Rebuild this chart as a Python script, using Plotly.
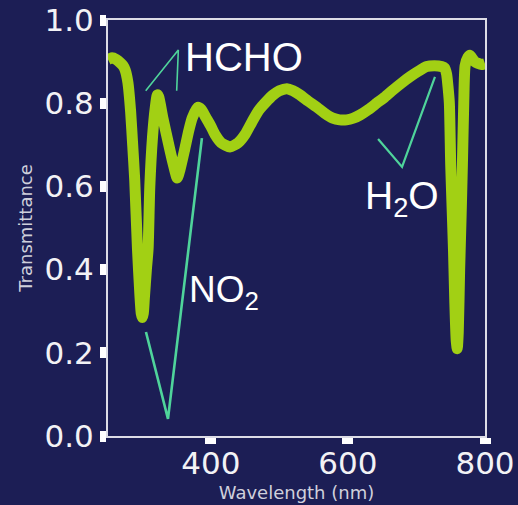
import plotly.graph_objects as go

# Spectrum data (wavelength in nm, transmittance)
wavelength = [250, 256, 262, 268, 272, 275, 279, 283, 286, 289, 293, 296.5, 298.5, 300, 301.5,
              303, 306, 308.5, 311, 315, 319, 322, 324, 330, 340, 345, 351, 355, 362, 368, 373,
              381, 386, 393, 400, 406, 415, 428, 440, 450, 460, 470, 480, 491, 500, 511,
              520, 530, 542, 555, 566, 578, 588, 598, 608, 618, 630, 642, 654, 666, 678, 691,
              703, 715, 726, 737, 741, 744, 746, 748, 750, 752, 754, 756, 758, 759.5, 761, 763,
              765, 767, 769, 771, 775, 778, 785, 795, 800]
transmittance = [0.905, 0.909, 0.905, 0.897, 0.89, 0.88, 0.85, 0.78, 0.70, 0.615, 0.45, 0.34, 0.295,
                 0.285, 0.295, 0.33, 0.40, 0.45, 0.60, 0.72, 0.79, 0.82, 0.815, 0.765, 0.69, 0.655,
                 0.62, 0.64, 0.69, 0.735, 0.765, 0.79, 0.785, 0.765, 0.745, 0.725, 0.705, 0.695,
                 0.705, 0.725, 0.755, 0.783, 0.802, 0.82, 0.83, 0.835, 0.83, 0.82, 0.805,
                 0.79, 0.776, 0.764, 0.76, 0.76, 0.764, 0.772, 0.785, 0.80, 0.815, 0.832, 0.848,
                 0.864, 0.877, 0.888, 0.89, 0.888, 0.885, 0.87, 0.84, 0.80, 0.65, 0.55, 0.45, 0.32,
                 0.23, 0.21, 0.25, 0.40, 0.52, 0.65, 0.80, 0.89, 0.91, 0.915, 0.90, 0.893, 0.895]

# Annotation pointer lines (data coordinates)
hcho_x = [305, 352.6, 350.2]
hcho_y = [0.830, 0.928, 0.830]
no2_x = [305.4, 337.5, 387]
no2_y = [0.25, 0.041, 0.716]
h2o_x = [644, 679, 727]
h2o_y = [0.714, 0.647, 0.863]

labels = ["HCHO", "NO<sub>2</sub>", "H<sub>2</sub>O"]
label_x = [449, 365.2, 622]
label_y = [0.912, 0.345, 0.572]

x_ticks = [400, 600, 800]
y_ticks = [0.0, 0.2, 0.4, 0.6, 0.8, 1.0]

BG = "#1c1e55"
LINE = "#a2d014"
POINTER = "#4fd49b"
AXIS = "#dcdce6"

fig = go.Figure()
fig.add_trace(go.Scatter(x=wavelength, y=transmittance, mode="lines",
                         line=dict(color=LINE, width=11, shape="spline", smoothing=0.6),
                         hoverinfo="skip"))
for xs, ys, w in [(hcho_x, hcho_y, 1.6), (no2_x, no2_y, 2.6), (h2o_x, h2o_y, 2.2)]:
    fig.add_trace(go.Scatter(x=xs, y=ys, mode="lines",
                             line=dict(color=POINTER, width=w), hoverinfo="skip"))

sizes = [40, 37, 39]
anchors = ["center", "left", "left"]
for t, x, y, s, a in zip(labels, label_x, label_y, sizes, anchors):
    fig.add_annotation(x=x, y=y, text=t, showarrow=False, xanchor=a, yanchor="middle",
                       font=dict(family="Liberation Sans, Arial", size=s, color="white"))

fig.update_layout(
    width=518, height=505,
    margin=dict(l=108, r=33, t=20, b=69),
    paper_bgcolor=BG, plot_bgcolor=BG,
    showlegend=False,
    font=dict(family="DejaVu Sans", color="#f2f2f5"),
)
fig.update_xaxes(range=[250, 800], tickvals=x_ticks, ticktext=[str(v) for v in x_ticks],
                 showgrid=False, zeroline=False, showline=True, linecolor=AXIS, linewidth=2,
                 mirror=True, ticks="outside", ticklen=6, tickwidth=11, tickcolor="white",
                 tickfont=dict(size=31, color="#f2f2f5"), automargin=False,
                 ticklabelstandoff=-7,
                 title=dict(text="Wavelength (nm)", font=dict(size=18, color="#cfd0dc"), standoff=6))
fig.update_yaxes(range=[0, 1.0], tickvals=y_ticks, ticktext=[f"{v:.1f}" for v in y_ticks],
                 showgrid=False, zeroline=False, showline=True, linecolor=AXIS, linewidth=2,
                 mirror=True, ticks="outside", ticklen=6, tickwidth=11, tickcolor="white",
                 tickfont=dict(size=31, color="#f2f2f5"), automargin=False,
                 title=dict(text="Transmittance", font=dict(size=18, color="#cfd0dc"), standoff=7))

fig.write_html("out.html", config={"displayModeBar": False},
               post_script="document.body.style.margin='0';"
                           "document.body.style.background='" + BG + "';"
                           "document.body.style.overflow='hidden';")
